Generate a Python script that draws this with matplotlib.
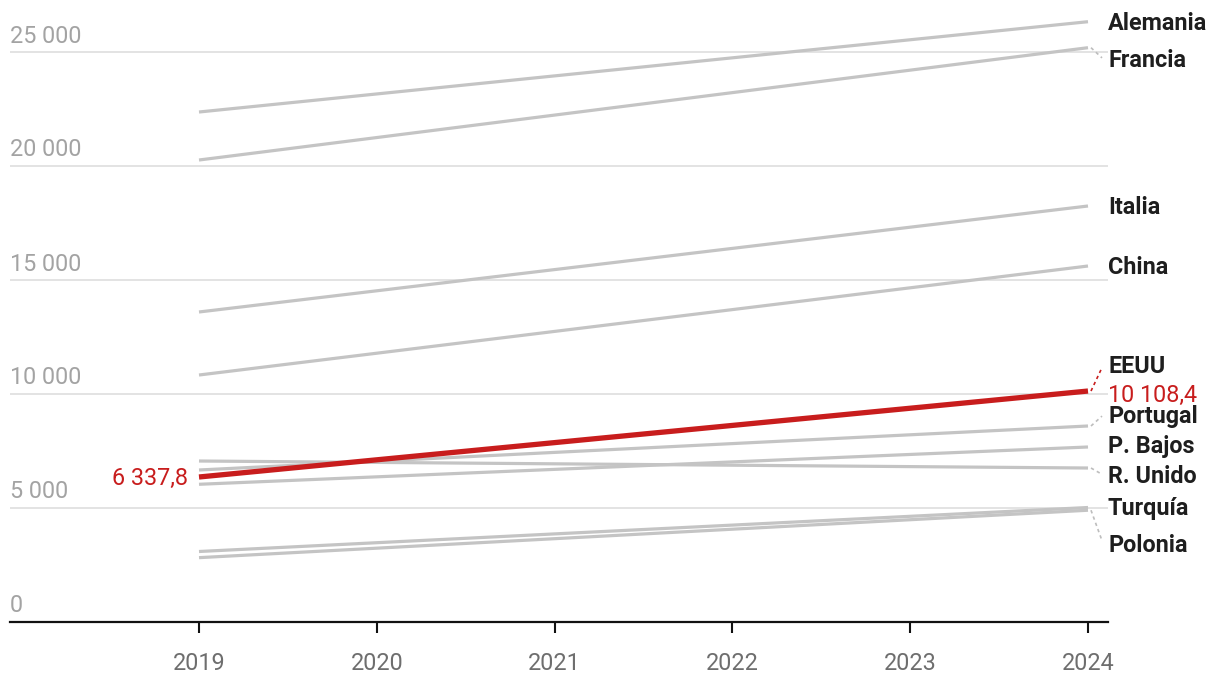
import matplotlib
matplotlib.use("Agg")
import matplotlib.pyplot as plt

plt.rcParams['font.family'] = ['Roboto', 'DejaVu Sans']

years = [2019, 2024]
countries = ["Alemania", "Francia", "Italia", "China", "Portugal", "P. Bajos",
             "R. Unido", "Turquía", "Polonia"]
values_2019 = [22346, 20241, 13575, 10811, 6645, 6018, 7039, 3070, 2800]
values_2024 = [26307, 25167, 18224, 15592, 8575, 7654, 6732, 5000, 4880]
eeuu_label = "EEUU"
eeuu_values = [6337.8, 10108.4]
eeuu_texts = ["6 337,8", "10 108,4"]
x_ticks = [2019, 2020, 2021, 2022, 2023, 2024]
y_ticks = [0, 5000, 10000, 15000, 20000, 25000]
y_tick_labels = ["0", "5 000", "10 000", "15 000", "20 000", "25 000"]

# layout: label baselines in pixels (from top of figure)
label_baseline_px = {"Alemania": 30, "Francia": 67, "Italia": 214, "China": 274,
                     "EEUU": 373, "Portugal": 423, "P. Bajos": 453, "R. Unido": 483,
                     "Turquía": 515, "Polonia": 552}

W, H, DPI = 1220, 682, 100
fig = plt.figure(figsize=(W / DPI, H / DPI), dpi=DPI)
zero_px = 621.5
px_per_5000 = 114.0
ax_left, ax_right = 10, 1108
ax = fig.add_axes([ax_left / W, (H - zero_px) / H, (ax_right - ax_left) / W, zero_px / H])

def ydata(py):
    return (zero_px - py) / px_per_5000 * 5000

x2019_px, x2024_px = 199, 1088
px_per_year = (x2024_px - x2019_px) / 5
ax.set_xlim(2019 - (x2019_px - ax_left) / px_per_year, 2024 + (ax_right - x2024_px) / px_per_year)
ax.set_ylim(0, ydata(0))

def xdata(px):
    return 2019 + (px - x2019_px) / px_per_year

GRAY = "#c4c4c4"
RED = "#c81d1d"

for v in y_ticks[1:]:
    ax.axhline(v, color="#e3e3e3", lw=1.4, zorder=0)

for i, yl in zip(y_ticks, y_tick_labels):
    ax.text(xdata(ax_left), i + 9 / px_per_5000 * 5000, yl, color="#a3a3a3", fontsize=16.8,
            ha="left", va="baseline")

for name, a, b in zip(countries, values_2019, values_2024):
    ax.plot(years, [a, b], color=GRAY, lw=2.3, solid_capstyle="butt", zorder=2)

ax.plot(years, eeuu_values, color=RED, lw=3.8, solid_capstyle="butt", zorder=3)

label_x = xdata(1108)
for name, b in zip(countries + [eeuu_label], values_2024 + [eeuu_values[1]]):
    by = ydata(label_baseline_px[name])
    cy = ydata(label_baseline_px[name] - 8)
    ax.text(label_x, by, name, fontsize=16.8, fontweight="bold", color="#1e1e1e",
            ha="left", va="baseline", zorder=5)
    if abs(cy - b) > 300:
        col = RED if name == eeuu_label else "#bdbdbd"
        ax.plot([xdata(1091), xdata(1102)], [b, cy + (b - cy) * 0.1], color=col,
                lw=1.2, ls=(0, (2, 2)), zorder=4)

ax.text(label_x, ydata(401.5), eeuu_texts[1], fontsize=16.8, color=RED, ha="left", va="baseline")
ax.text(xdata(188), ydata(485), eeuu_texts[0], fontsize=16.8, color=RED, ha="right", va="baseline")

for s in ["top", "right", "left"]:
    ax.spines[s].set_visible(False)
ax.spines["bottom"].set_color("#111111")
ax.spines["bottom"].set_linewidth(1.6)
ax.set_yticks([])
ax.set_xticks(x_ticks)
ax.set_xticklabels([str(x) for x in x_ticks])
ax.tick_params(axis="x", direction="out", length=8, width=1.5, color="#111111",
               labelsize=16.8, labelcolor="#6e6e6e", pad=14)

fig.savefig("out.png", dpi=DPI)
